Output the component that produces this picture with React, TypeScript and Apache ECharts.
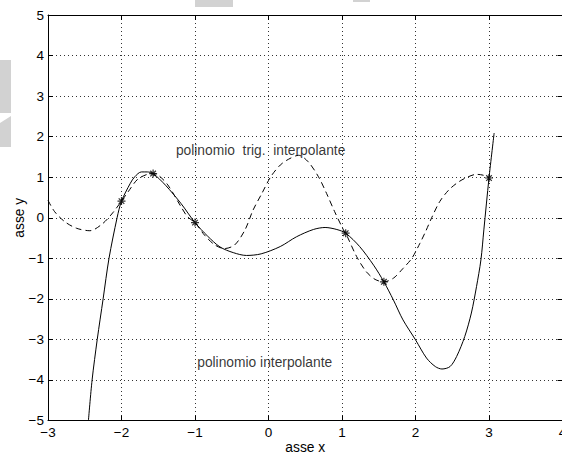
import React, { useEffect, useRef } from "react";
import * as echarts from "echarts";

// Interpolation nodes
const nodeX = [-2, -1.57, -1, 1.05, 1.57, 3];
const nodeY = [0.41, 1.09, -0.12, -0.38, -1.58, 0.98];

// Algebraic interpolating polynomial (solid)
const polyX = [-2.45, -2.4, -2.33, -2.25, -2.17, -2.06, -2.0, -1.88, -1.82, -1.73, -1.65, -1.57, -1.4, -1.19, -1.0, -0.83, -0.66, -0.48, -0.3, -0.1, 0.16, 0.38, 0.61, 0.77, 0.93, 1.05, 1.24, 1.43, 1.57, 1.7, 1.83, 2.0, 2.15, 2.27, 2.36, 2.47, 2.56, 2.67, 2.76, 2.83, 2.89, 2.93, 3.0, 3.07];
const polyY = [-5, -4, -3, -2, -1, 0, 0.41, 0.85, 1.01, 1.13, 1.13, 1.09, 0.8, 0.35, -0.12, -0.45, -0.72, -0.86, -0.93, -0.89, -0.71, -0.47, -0.29, -0.24, -0.29, -0.38, -0.71, -1.17, -1.58, -2.03, -2.52, -3.01, -3.46, -3.67, -3.73, -3.67, -3.42, -2.93, -2.35, -1.7, -1.04, -0.3, 0.98, 2.09];

// Trigonometric interpolating polynomial (dashed)
const trigX = [-3, -2.91, -2.77, -2.61, -2.43, -2.26, -2.12, -2.0, -1.91, -1.78, -1.65, -1.57, -1.5, -1.37, -1.19, -1.1, -1.0, -0.87, -0.73, -0.6, -0.46, -0.32, -0.21, -0.09, 0.03, 0.16, 0.27, 0.41, 0.54, 0.68, 0.79, 0.9, 1.02, 1.05, 1.2, 1.33, 1.45, 1.57, 1.7, 1.83, 1.95, 2.06, 2.14, 2.22, 2.33, 2.45, 2.56, 2.67, 2.83, 2.92, 3.0];
const trigY = [0.43, 0.15, -0.1, -0.26, -0.32, -0.15, 0.12, 0.41, 0.64, 0.95, 1.07, 1.09, 1.05, 0.81, 0.27, 0.02, -0.12, -0.43, -0.67, -0.76, -0.67, -0.3, 0.19, 0.6, 1.01, 1.3, 1.44, 1.54, 1.38, 1.01, 0.6, 0.15, -0.3, -0.38, -0.96, -1.33, -1.52, -1.58, -1.49, -1.25, -1.0, -0.63, -0.33, 0.0, 0.4, 0.68, 0.85, 0.97, 1.07, 1.05, 0.98];

// Annotations (data coordinates, left-anchored)
const annText = ["polinomio  trig.  interpolante", "polinomio interpolante"];
const annX = [-1.26, -0.97];
const annY = [1.67, -3.58];

const xTicks = { min: -3, max: 4, interval: 1 };
const yTicks = { min: -5, max: 5, interval: 1 };

const FONT = "'Liberation Sans', Arial, Helvetica, sans-serif";
const fmt = (v: number) => String(v).replace("-", "\u2212");
const STAR = "path://M10,0 L10,20 M0,10 L20,10 M3,3 L17,17 M3,17 L17,3";

export default function App() {
  const ref = useRef<HTMLDivElement>(null);
  useEffect(() => {
    if (!ref.current) return;
    const chart = echarts.init(ref.current, null, { renderer: "svg" });
    const zip = (xs: number[], ys: number[]) => xs.map((x, i) => [x, ys[i]]);
    const baseX = {
      type: "value" as const,
      min: xTicks.min,
      max: xTicks.max,
      interval: xTicks.interval,
    };
    const baseY = {
      type: "value" as const,
      min: yTicks.min,
      max: yTicks.max,
      interval: yTicks.interval,
    };
    chart.setOption({
      animation: false,
      backgroundColor: "#fff",
      textStyle: { fontFamily: FONT },
      grid: {
        left: 48,
        top: 15,
        width: 514.5,
        height: 405.5,
        containLabel: false,
        outerBoundsMode: "none",
      },
      xAxis: [
        {
          ...baseX,
          position: "bottom",
          name: "asse x",
          nameLocation: "middle",
          nameGap: 20,
          nameMoveOverlap: false,
          nameTextStyle: { fontSize: 13.8, color: "#000", fontFamily: FONT },
          axisLine: { show: true, onZero: false, lineStyle: { color: "#000", width: 1 } },
          axisTick: { show: true, inside: true, length: 5, lineStyle: { color: "#000" } },
          axisLabel: { formatter: fmt, fontSize: 13.5, color: "#000", margin: 5, fontFamily: FONT },
          splitLine: { show: true, lineStyle: { color: "#333", width: 1, type: [1, 3] } },
        },
        {
          ...baseX,
          position: "top",
          axisLine: { show: true, onZero: false, lineStyle: { color: "#000", width: 1 } },
          axisTick: { show: true, inside: true, length: 5, lineStyle: { color: "#000" } },
          axisLabel: { show: false },
          splitLine: { show: false },
        },
      ],
      yAxis: [
        {
          ...baseY,
          position: "left",
          name: "asse y",
          nameLocation: "middle",
          nameGap: 22,
          nameRotate: 90,
          nameMoveOverlap: false,
          nameTextStyle: { fontSize: 13.8, color: "#000", fontFamily: FONT },
          axisLine: { show: true, onZero: false, lineStyle: { color: "#000", width: 1 } },
          axisTick: { show: true, inside: true, length: 5, lineStyle: { color: "#000" } },
          axisLabel: { formatter: fmt, fontSize: 13.5, color: "#000", margin: 4, fontFamily: FONT },
          splitLine: { show: true, lineStyle: { color: "#333", width: 1, type: [1, 3] } },
        },
        {
          ...baseY,
          position: "right",
          axisLine: { show: true, onZero: false, lineStyle: { color: "#000", width: 1 } },
          axisTick: { show: true, inside: true, length: 5, lineStyle: { color: "#000" } },
          axisLabel: { show: false },
          splitLine: { show: false },
        },
      ],
      graphic: [
        { type: "rect", shape: { x: 195, y: 0, width: 38, height: 7 }, style: { fill: "#d2d2d2" }, z: -1 },
        { type: "rect", shape: { x: 353, y: 0, width: 17, height: 2 }, style: { fill: "#d2d2d2" }, z: -1 },
        { type: "rect", shape: { x: 0, y: 60, width: 11, height: 53 }, style: { fill: "#d2d2d2" }, z: -1 },
        { type: "polygon", shape: { points: [[0, 123], [11, 116], [11, 147], [0, 147]] }, style: { fill: "#d2d2d2" }, z: -1 },
      ],
      series: [
        {
          type: "line",
          data: zip(polyX, polyY),
          smooth: 0.3,
          showSymbol: false,
          silent: true,
          clip: true,
          lineStyle: { color: "#000", width: 1 },
        },
        {
          type: "line",
          data: zip(trigX, trigY),
          smooth: 0.3,
          showSymbol: false,
          silent: true,
          clip: true,
          lineStyle: { color: "#000", width: 1, type: [6, 4] },
        },
        {
          type: "scatter",
          data: zip(nodeX, nodeY),
          symbol: STAR,
          symbolSize: 8,
          silent: true,
          itemStyle: { color: "transparent", borderColor: "#000", borderWidth: 1.2 },
          z: 5,
        },
        {
          type: "scatter",
          data: annText.map((t, i) => ({ value: [annX[i], annY[i]], name: t })),
          symbolSize: 0,
          silent: true,
          label: {
            show: true,
            position: "right",
            distance: 0,
            formatter: (p: any) => p.name,
            fontSize: 13.8,
            color: "#000",
            fontFamily: FONT,
          },
          z: 6,
        },
      ],
    });
    return () => chart.dispose();
  }, []);
  return (
    <div
      ref={ref}
      style={{ position: "absolute", left: 0, top: 0, width: 562, height: 456, background: "#fff" }}
    />
  );
}
